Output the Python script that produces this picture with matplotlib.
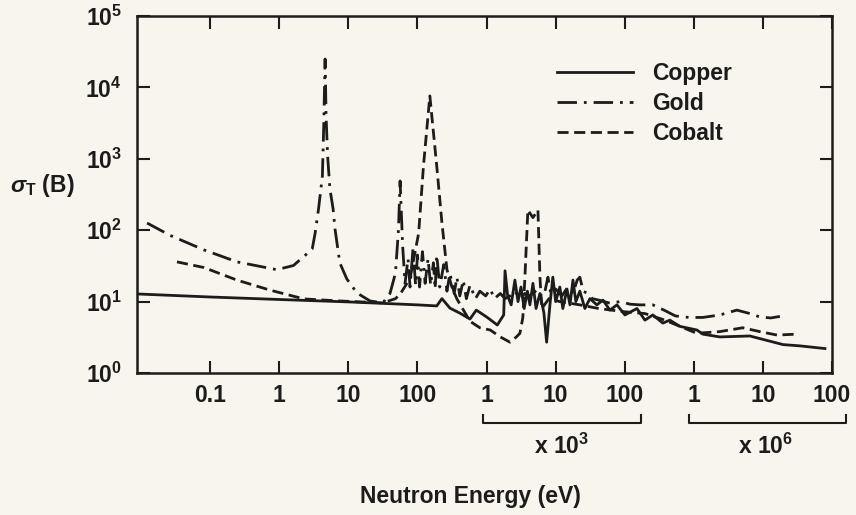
import matplotlib
matplotlib.use('Agg')
import matplotlib.pyplot as plt
import matplotlib.transforms as mtransforms

plt.rcParams['font.family'] = ['Liberation Sans', 'DejaVu Sans']
plt.rcParams['font.weight'] = 'bold'
plt.rcParams['mathtext.fontset'] = 'custom'
plt.rcParams['mathtext.rm'] = 'Liberation Sans:bold'
plt.rcParams['mathtext.bf'] = 'Liberation Sans:bold'
plt.rcParams['mathtext.it'] = 'Liberation Sans:italic'

# total cross sections (energy in eV, sigma in barns)
copper_e = [0.0087, 0.1, 1, 10, 100, 190, 226, 295, 410, 575, 710, 1000, 1430, 1770,
            1850, 2020, 2270, 2570, 2850, 3150, 3500, 3900, 4240, 4690, 5200, 5920,
            6750, 7400, 8260, 9100, 10000, 11500, 12700, 14600, 16100, 17800, 19600,
            22400, 26500, 31300, 39500, 48300, 61000, 77100, 100500, 150000, 196000,
            255000, 356000, 450000, 628000, 1.11e6, 1.35e6, 2.38e6, 6.47e6, 1.95e7,
            3.4e7, 7.9e7]
copper_xs = [12.8, 11.6, 10.7, 9.9, 9.0, 8.7, 11.0, 8.1, 6.9, 5.7, 7.6, 6.1, 4.7, 6.5,
             27, 12, 9, 20, 10, 16, 8, 14, 9, 18, 8, 13,
             7, 2.7, 9, 22, 10, 16, 8, 15, 9, 20, 10,
             14, 8, 11, 9, 10.5, 7.6, 9, 6.5, 8, 5.5,
             6.5, 5.0, 5.5, 4.5, 4.0, 3.5, 3.2, 3.3, 2.5,
             2.4, 2.2]

gold_e = [0.0122, 0.026, 0.081, 0.244, 0.92, 1.6, 2.4, 3.0, 3.3, 3.7, 4.2, 4.4, 4.6,
          4.75, 5.0, 5.4, 6.0, 6.4, 7.5, 9.5, 13.3, 20.6, 31.6, 40, 48, 53, 56, 61,
          66, 73, 78, 86, 94, 100, 107, 118, 129, 142, 155, 170, 180, 190, 210, 240,
          267, 295, 340, 372, 410, 460, 510, 575, 690, 800, 970, 1130, 1300, 1580,
          1850, 2180, 2570, 3040, 3590, 4240, 5000, 5920, 7000, 7730, 8500, 10000,
          12300, 15000, 17800, 20500, 22400, 25000, 29000, 34000, 42000, 61000, 86000,
          119000, 165000, 255000, 380000, 540000, 850000, 1.35e6, 2.38e6, 4.2e6,
          6.5e6, 9e6, 1.3e7, 1.76e7]
gold_xs = [126, 85, 53, 36, 28, 32, 45, 55, 91, 200, 570, 3000, 25000,
           4000, 1100, 380, 200, 104, 35, 20.7, 13.2, 10.2, 9.6, 13, 25, 100, 490, 60,
           18, 40, 16, 55, 17, 45, 16, 50, 18, 40, 17, 35, 15, 45, 16, 33,
           14, 25, 13, 22, 12, 20, 11, 17, 11, 14, 12, 15, 11, 13,
           11, 12, 14, 11, 13, 12, 14, 11, 14, 22, 13, 15,
           12, 16, 13, 20, 22, 14, 13, 11, 10.5, 9.5, 10,
           9.2, 9.0, 9.0, 7.5, 6.3, 6.0, 6.0, 6.5, 7.6,
           6.8, 6.1, 5.9, 6.2]

cobalt_e = [0.033, 0.081, 0.244, 0.73, 2.27, 7.5, 15.4, 31.6, 48, 56, 78, 104, 122,
            151, 190, 226, 267, 315, 372, 575, 800, 1130, 1580, 2180, 2700, 3040,
            3350, 3590, 3960, 4690, 5540, 5920, 6300, 8000, 11500, 22400, 42000,
            100000, 196000, 380000, 628000, 1.1e6, 2.38e6, 5.1e6, 9e6, 1.6e7, 3.1e7]
cobalt_xs = [36, 30, 20, 14.5, 10.9, 10.2, 9.9, 9.6, 11, 12.7, 21, 91, 790,
             7600, 790, 126, 28, 16, 10.9, 5.3, 4.3, 4.0, 3.2, 2.7, 3.2, 3.6,
             6, 22, 192, 150, 192, 22, 8, 11, 10, 9, 8,
             7.2, 6.8, 5.5, 4.5, 3.6, 3.8, 4.3, 3.8, 3.4, 3.5]

x_ticks = [0.1, 1, 10, 100, 1e3, 1e4, 1e5, 1e6, 1e7, 1e8]
x_tick_labels = ['0.1', '1', '10', '100', '1', '10', '100', '1', '10', '100']
y_ticks = [1, 10, 100, 1e3, 1e4, 1e5]
y_tick_labels = ['$10^{0}$', '$10^{1}$', '$10^{2}$', '$10^{3}$', '$10^{4}$', '$10^{5}$']

ink = '#1c1c1c'
bg = '#f7f5ee'
fs = 16.5

fig = plt.figure(figsize=(8.56, 5.15), dpi=100, facecolor=bg)
ax = fig.add_axes([137 / 856, 1 - 373 / 515, 695 / 856, 357 / 515])
ax.set_facecolor(bg)

ax.plot(copper_e, copper_xs, color=ink, lw=2.0, label='Copper')
ax.plot(gold_e, gold_xs, color=ink, lw=2.0, dashes=(7, 2.5, 1, 2.5), label='Gold')
ax.plot(cobalt_e, cobalt_xs, color=ink, lw=2.0, dashes=(4, 2), label='Cobalt')

ax.set_xscale('log')
ax.set_yscale('log')
ax.set_xlim(10 ** -2.06, 1e8)
ax.set_ylim(1, 1e5)

ax.set_xticks(x_ticks)
ax.set_xticklabels(x_tick_labels)
ax.set_yticks(y_ticks)
ax.set_yticklabels(y_tick_labels)
ax.minorticks_off()
ax.tick_params(axis='both', which='major', direction='in', length=9, width=1.5,
               color=ink, labelcolor=ink, labelsize=fs, top=True, right=True)
ax.tick_params(axis='x', pad=8)
ax.tick_params(axis='y', pad=11)
for s in ax.spines.values():
    s.set_linewidth(1.8)
    s.set_color(ink)

leg = ax.legend(loc='upper left', bbox_to_anchor=(557 / 856, 1 - 62 / 515),
                bbox_transform=fig.transFigure, frameon=False, fontsize=fs,
                handlelength=3.3, handletextpad=0.83, labelspacing=0.3,
                borderpad=0, borderaxespad=0)
for t in leg.get_texts():
    t.set_color(ink)

# brackets grouping the keV and MeV decades
trans = mtransforms.blended_transform_factory(ax.transData, ax.transAxes)
for lo, hi, lab, mid in [(885, 1.71e5, r'x $10^{3}$', 1.2e4),
                         (8.5e5, 1.6e8, r'x $10^{6}$', 1.1e7)]:
    ax.plot([lo, lo, hi, hi], [-0.118, -0.14, -0.14, -0.118], color=ink, lw=1.5,
            transform=trans, clip_on=False)
    ax.text(mid, -0.205, lab, transform=trans, ha='center', va='center',
            fontsize=fs, color=ink)

fig.text(470 / 856, 1 - 497 / 515, 'Neutron Energy (eV)', ha='center', va='center',
         fontsize=fs, color=ink)
fig.text(10 / 856, 1 - 185 / 515, r'$\sigma_{\mathrm{T}}$ (B)', ha='left', va='center',
         fontsize=fs, color=ink)

fig.savefig('out.png', dpi=100, facecolor=bg)
